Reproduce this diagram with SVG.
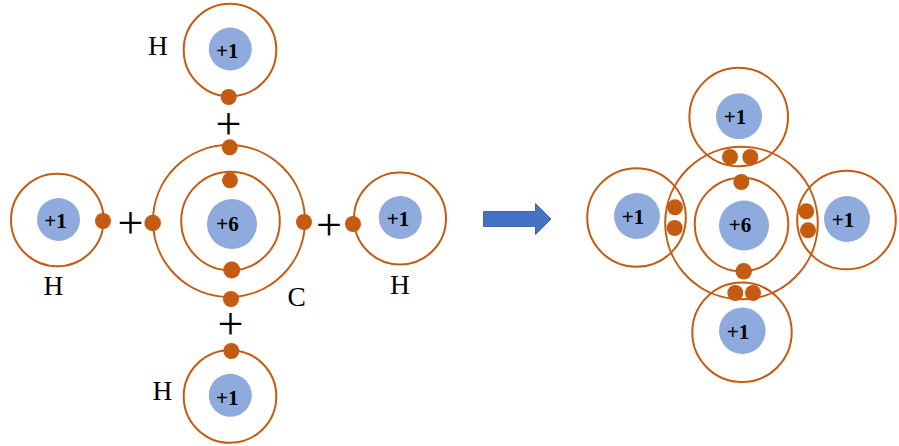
<svg xmlns="http://www.w3.org/2000/svg" width="899" height="446" viewBox="0 0 899 446">
<style>
.o{fill:none;stroke:#C55A11;stroke-width:2}
.n{fill:#8FAADC}
.e{fill:#C55A11}
text{font-family:"Liberation Serif","Times New Roman",serif;fill:#000}
.c{font-size:21px;font-weight:700;text-anchor:middle}
.l{font-size:27.5px}
.p{font-size:46px;text-anchor:middle}
</style>
<rect width="899" height="446" fill="#fff"/>
<g id="connectors">
<path d="M483.5 211.5H535.5V203.5L551 219L535.5 234.5V226.5H483.5Z" fill="#4472C4" stroke="#2F528F" stroke-width="0.8"/>
</g>
<g id="h-top-left"><circle class="o" cx="230" cy="50" r="46.3"/><circle class="n" cx="230.3" cy="49" r="21.5"/><text class="c" x="227.3" y="57.5">+1</text><circle class="e" cx="228.7" cy="97" r="8"/><text class="l" x="148" y="55">H</text></g>
<g id="h-left"><circle class="o" cx="57.3" cy="220" r="46.3"/><circle class="n" cx="58.5" cy="219.5" r="21.5"/><text class="c" x="55.5" y="228">+1</text><circle class="e" cx="103" cy="221" r="8"/><text class="l" x="43.5" y="295">H</text></g>
<g id="c-left"><circle class="o" cx="229" cy="221" r="76"/><circle class="o" cx="230.5" cy="221" r="49.3"/><circle class="n" cx="232" cy="224" r="25"/><text class="c" x="227.5" y="231">+6</text>
<circle class="e" cx="229.7" cy="147.3" r="8"/><circle class="e" cx="230" cy="180.3" r="8"/><circle class="e" cx="231.7" cy="270" r="8.5"/><circle class="e" cx="231" cy="299" r="8"/><circle class="e" cx="152.7" cy="223" r="8.3"/><circle class="e" cx="304" cy="222" r="8"/><text class="l" x="287.5" y="306">C</text></g>
<g id="h-right"><circle class="o" cx="400" cy="218.5" r="46"/><circle class="n" cx="400.3" cy="217.5" r="21.5"/><text class="c" x="398" y="226">+1</text><circle class="e" cx="353" cy="224" r="8"/><text class="l" x="390" y="294">H</text></g>
<g id="h-bottom-left"><circle class="o" cx="230" cy="396.5" r="46.3"/><circle class="n" cx="230.3" cy="395.3" r="21.5"/><text class="c" x="227.3" y="405">+1</text><circle class="e" cx="231.3" cy="351" r="8"/><text class="l" x="152.5" y="400">H</text></g>
<g id="plus-signs"><text class="p" x="228.5" y="138.5">+</text><text class="p" x="130.5" y="237.5">+</text><text class="p" x="329" y="239.5">+</text><text class="p" x="230.5" y="338.5">+</text></g>
<g id="h-top-right"><circle class="o" cx="738.7" cy="117" r="49.3"/><circle class="n" cx="739" cy="116.3" r="23"/><text class="c" x="735" y="124">+1</text><circle class="e" cx="730" cy="157" r="8"/><circle class="e" cx="750.3" cy="157" r="8"/></g>
<g id="h-left-right"><circle class="o" cx="636.5" cy="217.5" r="49.3"/><circle class="n" cx="637" cy="216" r="23"/><text class="c" x="633" y="224">+1</text><circle class="e" cx="675" cy="207.3" r="8"/><circle class="e" cx="674.7" cy="228" r="8"/></g>
<g id="c-right"><circle class="o" cx="741.5" cy="223" r="76.3"/><circle class="o" cx="741.5" cy="224.5" r="46.8"/><circle class="n" cx="744" cy="225.5" r="25"/><text class="c" x="740" y="232">+6</text><circle class="e" cx="741.3" cy="182" r="8"/><circle class="e" cx="743.7" cy="271.3" r="8.3"/></g>
<g id="h-right-right"><circle class="o" cx="846.5" cy="220" r="49.3"/><circle class="n" cx="847" cy="219" r="23"/><text class="c" x="843" y="227">+1</text><circle class="e" cx="806.3" cy="211.3" r="8"/><circle class="e" cx="808" cy="230.3" r="8"/></g>
<g id="h-bottom-right"><circle class="o" cx="742" cy="332.3" r="49.7"/><circle class="n" cx="742.3" cy="330.7" r="23.3"/><text class="c" x="738" y="339">+1</text><circle class="e" cx="735.3" cy="293" r="8"/><circle class="e" cx="753" cy="293" r="8"/></g>
</svg>
